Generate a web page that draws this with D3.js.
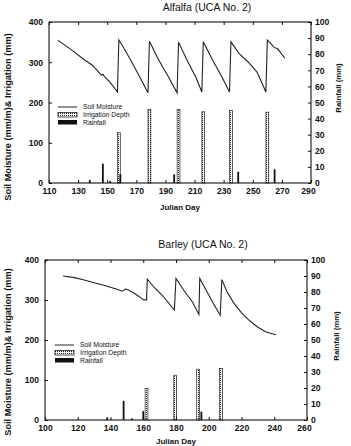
<!DOCTYPE html>
<html>
<head>
<meta charset="utf-8">
<script src="https://cdn.jsdelivr.net/npm/d3@7"></script>
<style>
    body { margin: 0; background: #fff; }
    svg { display: block; font-family: "Liberation Sans", Arial, sans-serif; }
</style>
</head>
<body>
<div id="chart"></div>
<script>
// ---- Alfalfa (UCA No. 2) ----
const alfalfaSoilDays = [116, 125, 134, 140, 144, 146, 147, 148, 152, 157, 158, 160, 166, 172, 178, 179, 185, 192, 198, 199, 205, 211, 215, 216, 222, 229, 234, 235, 237, 241, 247, 253, 259, 260, 262, 265, 267, 272];
const alfalfaSoilValues = [355, 332, 307, 292, 276, 268, 270, 265, 250, 226, 355, 344, 306, 266, 224, 352, 308, 264, 224, 350, 304, 262, 226, 351, 308, 262, 226, 351, 340, 320, 300, 275, 226, 355, 348, 336, 334, 310];
const alfalfaIrrigDays = [158, 179, 199, 216, 235, 260];
const alfalfaIrrigValues = [125, 183, 183, 177, 180, 176];
const alfalfaRainDays = [138, 147, 152, 159, 196, 240, 265];
const alfalfaRainValues = [1.8, 12, 1.2, 5.5, 5.4, 7, 8.5];
const alfalfaXTicks = [110, 130, 150, 170, 190, 210, 230, 250, 270, 290];

// ---- Barley (UCA No. 2) ----
const barleySoilDays = [111, 118, 124, 130, 136, 140, 144, 147, 148, 149, 151, 154, 157, 159, 160, 162, 162.5, 167, 172, 179, 180, 185, 190, 194, 194.5, 199, 203, 207, 208, 211, 215, 220, 225, 230, 235, 241];
const barleySoilValues = [360, 356, 350, 343, 337, 332, 327, 322, 324, 327, 325, 318, 310, 304, 301, 300, 352, 330, 310, 275, 354, 323, 295, 264, 354, 320, 290, 262, 351, 322, 294, 268, 248, 232, 220, 213];
const barleyIrrigDays = [162, 179.5, 193.5, 207.5];
const barleyIrrigValues = [79, 112, 127, 129];
const barleyRainDays = [138, 148, 153, 160, 195.5];
const barleyRainValues = [1.7, 12, 1, 5.6, 5.2];
const barleyXTicks = [100, 120, 140, 160, 180, 200, 220, 240, 260];

const soilTicks = [0, 100, 200, 300, 400];
const rainTicks = [0, 10, 20, 30, 40, 50, 60, 70, 80, 90, 100];
const legendLabels = ['Soil Moisture', 'Irrigation Depth', 'Rainfall'];

const width = 351;
const height = 446;

const svg = d3.select('#chart')
    .append('svg')
    .attr('width', width)
    .attr('height', height);

// dotted fill used for the irrigation bars
const pat = svg.append('defs').append('pattern')
    .attr('id', 'dots')
    .attr('width', 2)
    .attr('height', 2)
    .attr('patternUnits', 'userSpaceOnUse');
pat.append('rect').attr('width', 2).attr('height', 2).attr('fill', '#fff');
pat.append('rect').attr('width', 1).attr('height', 1).attr('fill', '#222');

const panels = [
    {
        title: 'Alfalfa (UCA No. 2)',
        domain: [110, 290], xTicks: alfalfaXTicks,
        soil: alfalfaSoilDays.map((d, i) => [d, alfalfaSoilValues[i]]),
        irrig: alfalfaIrrigDays.map((d, i) => [d, alfalfaIrrigValues[i]]),
        rain: alfalfaRainDays.map((d, i) => [d, alfalfaRainValues[i]]),
        left: 49, right: 311, top: 22, bottom: 183,
        titleX: 207, titleY: 11, xLabelY: 210,
        yLabelY: 117, rLabelX: 341, rLabelY: 88,
        legX: 58, legY: 107
    },
    {
        title: 'Barley (UCA No. 2)',
        domain: [100, 260], xTicks: barleyXTicks,
        soil: barleySoilDays.map((d, i) => [d, barleySoilValues[i]]),
        irrig: barleyIrrigDays.map((d, i) => [d, barleyIrrigValues[i]]),
        rain: barleyRainDays.map((d, i) => [d, barleyRainValues[i]]),
        left: 45, right: 307, top: 260, bottom: 420,
        titleX: 203, titleY: 248, xLabelY: 444,
        yLabelY: 352, rLabelX: 339, rLabelY: 336,
        legX: 55, legY: 345
    }
];

panels.forEach(p => drawPanel(p));

function drawPanel(p) {
    const x = d3.scaleLinear().domain(p.domain).range([p.left, p.right]);
    const y = d3.scaleLinear().domain([0, 400]).range([p.bottom, p.top]);
    const yR = d3.scaleLinear().domain([0, 100]).range([p.bottom, p.top]);

    const g = svg.append('g');

    // title
    g.append('text')
        .attr('x', p.titleX)
        .attr('y', p.titleY)
        .attr('text-anchor', 'middle')
        .attr('font-size', 10.5)
        .attr('fill', '#111')
        .text(p.title);

    // irrigation bars (left axis, mm)
    g.selectAll('.irrig')
        .data(p.irrig)
        .enter()
        .append('rect')
        .attr('x', d => x(d[0]) - 1.4)
        .attr('y', d => y(d[1]))
        .attr('width', 2.8)
        .attr('height', d => y(0) - y(d[1]))
        .attr('fill', 'url(#dots)')
        .attr('stroke', '#222')
        .attr('stroke-width', 0.7);

    // rainfall bars (right axis, mm)
    g.selectAll('.rain')
        .data(p.rain)
        .enter()
        .append('rect')
        .attr('x', d => x(d[0]) - 0.9)
        .attr('y', d => yR(d[1]))
        .attr('width', 1.8)
        .attr('height', d => yR(0) - yR(d[1]))
        .attr('fill', '#111');

    // soil moisture line
    const line = d3.line().x(d => x(d[0])).y(d => y(d[1]));
    g.append('path')
        .datum(p.soil)
        .attr('d', line)
        .attr('fill', 'none')
        .attr('stroke', '#222')
        .attr('stroke-width', 1.1);

    // frame
    g.append('rect')
        .attr('x', p.left)
        .attr('y', p.top)
        .attr('width', p.right - p.left)
        .attr('height', p.bottom - p.top)
        .attr('fill', 'none')
        .attr('stroke', '#111')
        .attr('stroke-width', 1.1);

    // axes
    const xAxis = g.append('g')
        .attr('transform', `translate(0,${p.bottom})`)
        .call(d3.axisBottom(x).tickValues(p.xTicks).tickSize(-3).tickSizeOuter(0).tickPadding(5));
    g.append('g')
        .attr('transform', `translate(0,${p.top})`)
        .call(d3.axisTop(x).tickValues(p.xTicks).tickSize(-3).tickSizeOuter(0).tickFormat(''));
    const yAxis = g.append('g')
        .attr('transform', `translate(${p.left},0)`)
        .call(d3.axisLeft(y).tickValues(soilTicks).tickSize(-3).tickSizeOuter(0).tickPadding(6));
    const yRAxis = g.append('g')
        .attr('transform', `translate(${p.right},0)`)
        .call(d3.axisRight(yR).tickValues(rainTicks).tickSize(-3).tickSizeOuter(0).tickPadding(4));

    g.selectAll('.domain').remove();
    g.selectAll('.tick line').attr('stroke', '#111');
    [xAxis, yAxis, yRAxis].forEach(a => a.selectAll('text')
        .attr('font-size', 8.6)
        .attr('font-weight', 'bold')
        .attr('fill', '#111')
        .attr('font-family', '"Liberation Sans", Arial, sans-serif'));
    // last x label sits just left of the right-axis "0", as in the original
    xAxis.selectAll('.tick').filter(d => d === p.domain[1]).select('text').attr('dx', -3);

    // axis titles
    g.append('text')
        .attr('x', (p.left + p.right) / 2)
        .attr('y', p.xLabelY)
        .attr('text-anchor', 'middle')
        .attr('font-size', 8)
        .attr('font-weight', 'bold')
        .attr('fill', '#111')
        .text('Julian Day');
    g.append('text')
        .attr('transform', `translate(11,${p.yLabelY}) rotate(-90)`)
        .attr('text-anchor', 'middle')
        .attr('font-size', 9.2)
        .attr('font-weight', 'bold')
        .attr('fill', '#111')
        .text('Soil Moisture (mm/m)& Irrigation (mm)');
    g.append('text')
        .attr('transform', `translate(${p.rLabelX},${p.rLabelY}) rotate(-90)`)
        .attr('text-anchor', 'middle')
        .attr('font-size', 7.8)
        .attr('font-weight', 'bold')
        .attr('fill', '#111')
        .text('Rainfall (mm)');

    // legend
    const leg = g.append('g').attr('transform', `translate(${p.legX},${p.legY})`);
    leg.append('line')
        .attr('x1', 0).attr('x2', 19)
        .attr('y1', 0).attr('y2', 0)
        .attr('stroke', '#222').attr('stroke-width', 1);
    leg.append('rect')
        .attr('x', 0).attr('y', 5.5)
        .attr('width', 19).attr('height', 4.5)
        .attr('fill', 'url(#dots)')
        .attr('stroke', '#222').attr('stroke-width', 0.8);
    leg.append('rect')
        .attr('x', 0).attr('y', 13)
        .attr('width', 19).attr('height', 4.5)
        .attr('fill', '#111');
    leg.selectAll('.leg-label')
        .data(legendLabels)
        .enter()
        .append('text')
        .attr('x', 25)
        .attr('y', (d, i) => i * 7.7 + 2.2)
        .attr('font-size', 6.8)
        .attr('fill', '#111')
        .text(d => d);
}
</script>
</body>
</html>
